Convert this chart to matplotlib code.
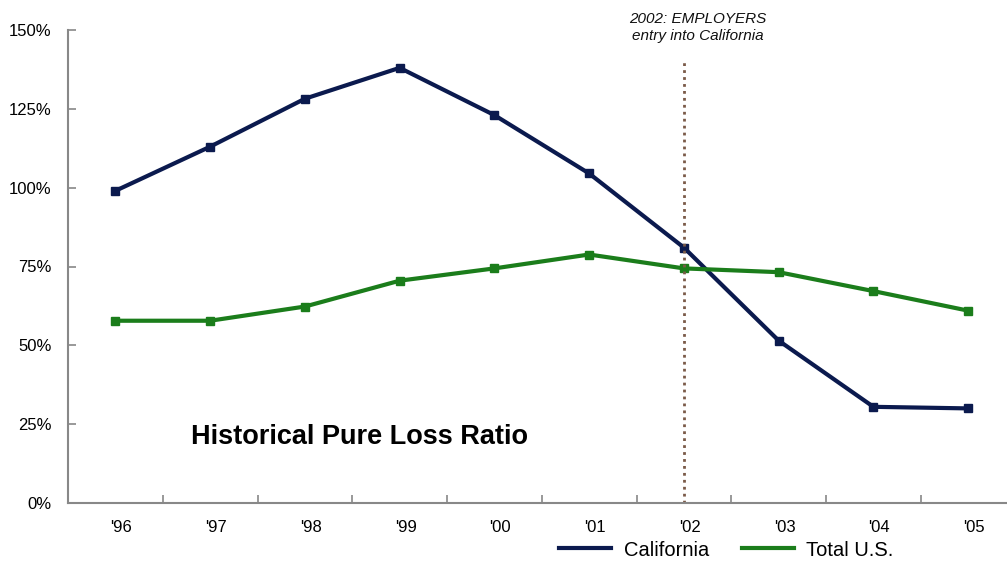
import numpy as np
import matplotlib.pyplot as plt
import matplotlib.transforms as mtransforms
from matplotlib.lines import Line2D

# Data (percent)
years = ["'96", "'97", "'98", "'99", "'00", "'01", "'02", "'03", "'04", "'05"]
california = [99.0, 113.0, 128.2, 138.0, 123.0, 104.5, 81.0, 51.5, 30.5, 30.0]
total_us = [57.8, 57.8, 62.3, 70.5, 74.4, 78.8, 74.4, 73.2, 67.2, 61.0]
entry_year = 6  # index of '02

plt.rcParams['font.family'] = ['Liberation Sans', 'DejaVu Sans']

W, H = 1007, 561
fig = plt.figure(figsize=(W / 100, H / 100), dpi=100)
ax = fig.add_axes([68 / W, (H - 503) / H, (W - 68) / W, 473 / H])

x = np.arange(len(years))
navy = '#0b1a4e'
green = '#1b7d1b'
ax.plot(x, california, color=navy, lw=3, marker='s', ms=6)
ax.plot(x, total_us, color=green, lw=3, marker='s', ms=6)

# vertical marker for EMPLOYERS entry
ax.plot([entry_year, entry_year], [0, 140.5], color='#7a5a48', lw=2,
        linestyle=(0, (1, 1.5)))
ax.text(entry_year + 0.15, 146.0, '2002: EMPLOYERS\nentry into California',
        ha='center', va='bottom', fontsize=11, style='italic',
        color='#111111', linespacing=1.2, clip_on=False)

ax.text(2.58, 20.8, 'Historical Pure Loss Ratio', fontsize=19.5,
        fontweight='bold', ha='center', va='center')

ax.set_xlim(-0.5, 9.41)
ax.set_ylim(0, 150)
ax.set_yticks(np.arange(0, 151, 25))
ax.set_yticklabels([f'{v}%' for v in range(0, 151, 25)], fontsize=12)

# ticks between categories, labels at categories
ax.set_xticks(np.arange(0.5, 9.5, 1))
ax.set_xticklabels([])
ax.set_xticks(x, minor=True)
ax.set_xticklabels(years, minor=True, fontsize=12)
ax.tick_params(axis='x', which='minor', length=0, pad=12)
ax.tick_params(axis='x', which='major', direction='in', length=6,
               color='#888888', width=1.2)
ax.tick_params(axis='y', direction='in', length=6, color='#888888',
               width=1.2, pad=12)
offset = mtransforms.ScaledTranslation(6 / 100, 0, fig.dpi_scale_trans)
for lbl in ax.get_xticklabels(minor=True):
    lbl.set_transform(lbl.get_transform() + offset)

for side in ['top', 'right']:
    ax.spines[side].set_visible(False)
for side in ['left', 'bottom']:
    ax.spines[side].set_color('#888888')
    ax.spines[side].set_linewidth(1.5)

handles = [Line2D([], [], color=navy, lw=3), Line2D([], [], color=green, lw=3)]
fig.legend(handles, ['California', 'Total U.S.'], loc='center',
           bbox_to_anchor=(726.5 / W, (H - 550) / H), ncol=2, frameon=False,
           fontsize=14.5, handlelength=2.6, columnspacing=1.65,
           handletextpad=0.6, borderaxespad=0, borderpad=0)

fig.savefig('out.png', dpi=100)
